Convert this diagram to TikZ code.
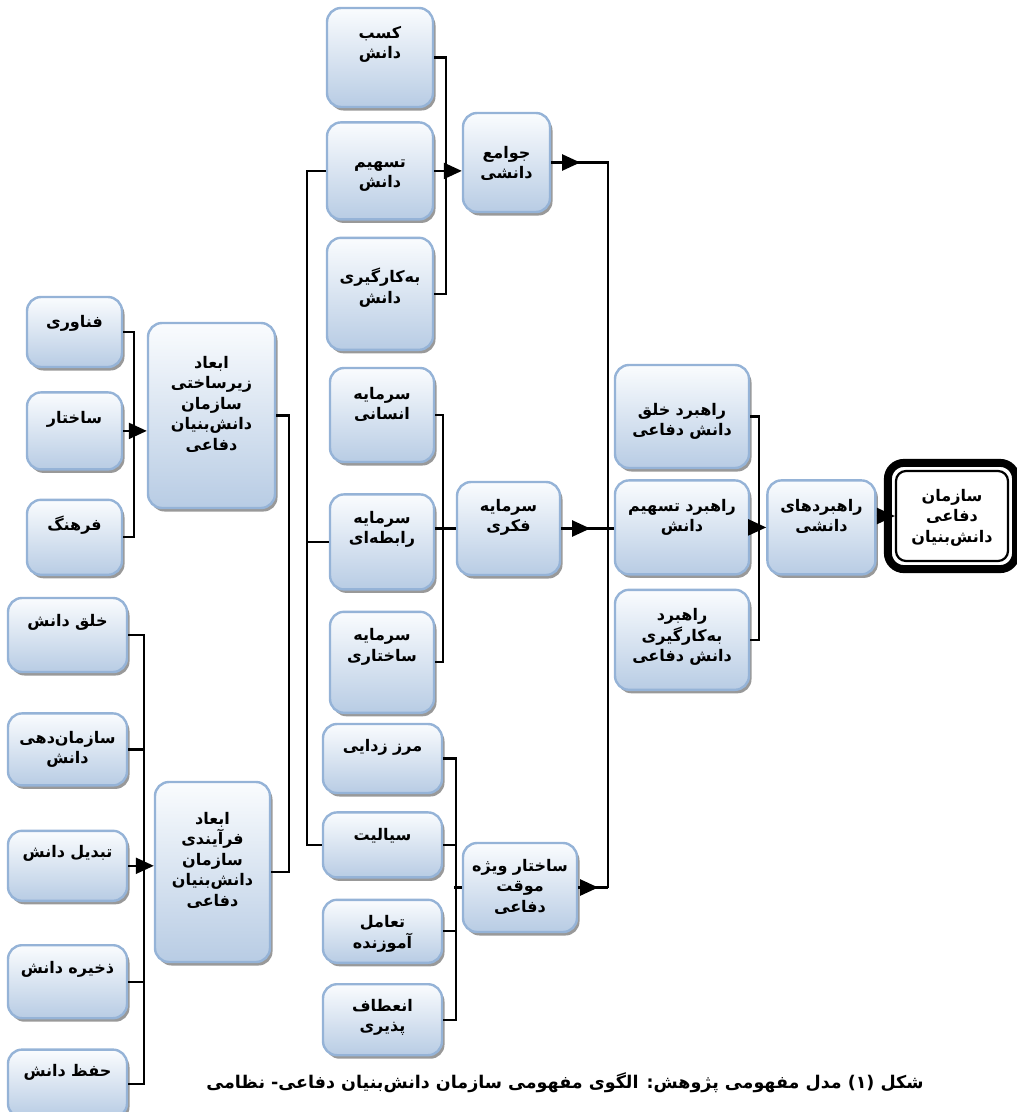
\documentclass[tikz,border=0pt]{standalone}
\usepackage{fontspec}
\newfontfamily\arabicfont[Script=Arabic]{DejaVu Sans}
\TeXXeTstate=1
\usetikzlibrary{arrows.meta,positioning,shadows,decorations.markings}
\definecolor{boxline}{RGB}{149,179,215}
\definecolor{boxtop}{RGB}{250,252,254}
\definecolor{boxbottom}{RGB}{184,204,228}
\newcommand{\fa}[1]{\beginR #1\endR}
\tikzset{
    %Define standard arrow tip
    >={Triangle[length=18pt,width=16pt]},
    %Define style for boxes
    box/.style={
           rectangle,
           rounded corners=14pt,
           draw=boxline, line width=2.4pt,
           top color=boxtop, bottom color=boxbottom,
           general shadow={fill=black!40, shadow xshift=2.5pt, shadow yshift=-3.5pt},
           inner sep=0pt,
           align=center,
           font=\arabicfont\bfseries\fontsize{16}{20.5}\selectfont},
    % width, top to first baseline, rest of height
    boxdim/.style n args={3}{
           text width=#1pt,
           text height=#2pt,
           text depth=#3pt},
    final/.style={
           rectangle,
           rounded corners=10pt,
           draw=black, line width=2.2pt,
           fill=white,
           inner sep=0pt,
           align=center,
           font=\arabicfont\bfseries\fontsize{16}{20.5}\selectfont},
    % Define arrow style
    link/.style={
           draw=black,
           line width=2.2pt},
    imply/.style={
           link,
           ->},
    midarrow/.style={
           link,
           postaction={decorate},
           decoration={markings, mark=at position #1 with {\arrow{>}}}}
}
\begin{document}
\begin{tikzpicture}[x=1pt, y=-1pt]
 \useasboundingbox (0,0) rectangle (1017,1112);
 %nodes
    \node[box, boxdim={95}{30}{40}] (fanavari) at (74.5,332) {\fa{فناوری}};
    \node[box, boxdim={95}{31}{46}, below=23pt of fanavari] (sakhtar) {\fa{ساختار}};
    \node[box, boxdim={95}{31}{44}, below=28pt of sakhtar] (farhang) {\fa{فرهنگ}};

    \node[box, boxdim={119}{28}{46}] (khalq) at (67.5,635) {\fa{خلق دانش}};
    \node[box, boxdim={119}{30}{42}, below=39pt of khalq] (sazmandehi) {\fa{سازمان‌دهی}\\\fa{دانش}};
    \node[box, boxdim={119}{27}{43}, below=43pt of sazmandehi] (tabdil) {\fa{تبدیل دانش}};
    \node[box, boxdim={119}{28}{45}, below=42pt of tabdil] (zakhire) {\fa{ذخیره دانش}};
    \node[box, boxdim={119}{27}{41}, below=29pt of zakhire] (hefz) {\fa{حفظ دانش}};

    \node[box, boxdim={127}{45}{140}] (abaadzir) at (211.5,415.5) {\fa{ابعاد}\\\fa{زیرساختی}\\\fa{سازمان}\\\fa{دانش‌بنیان}\\\fa{دفاعی}};
    \node[box, boxdim={115}{42}{138}] (abaadfar) at (212.5,872) {\fa{ابعاد}\\\fa{فرآیندی}\\\fa{سازمان}\\\fa{دانش‌بنیان}\\\fa{دفاعی}};

    \node[box, boxdim={106}{30}{69}] (kasb) at (380,57.5) {\fa{کسب}\\\fa{دانش}};
    \node[box, boxdim={106}{45}{52}, below=13pt of kasb] (tashim) {\fa{تسهیم}\\\fa{دانش}};
    \node[box, boxdim={106}{45}{67}, below=16pt of tashim] (bekar) {\fa{به‌کارگیری}\\\fa{دانش}};
    \node[box, boxdim={87}{45}{54}] (javame) at (506.5,162.5) {\fa{جوامع}\\\fa{دانشی}};

    \node[box, boxdim={104}{31}{63}] (ensani) at (382,415) {\fa{سرمایه}\\\fa{انسانی}};
    \node[box, boxdim={104}{29}{66}, below=30pt of ensani] (rabete) {\fa{سرمایه}\\\fa{رابطه‌ای}};
    \node[box, boxdim={104}{29}{72}, below=20pt of rabete] (sakhtari) {\fa{سرمایه}\\\fa{ساختاری}};
    \node[box, boxdim={103}{29}{64}] (fekri) at (508.5,528.5) {\fa{سرمایه}\\\fa{فکری}};

    \node[box, boxdim={119}{27}{42}] (marz) at (382.5,758.5) {\fa{مرز زدایی}};
    \node[box, boxdim={119}{28}{37}, below=17pt of marz] (sayaliat) {\fa{سیالیت}};
    \node[box, boxdim={119}{28}{35}, below=20pt of sayaliat] (taamol) {\fa{تعامل}\\\fa{آموزنده}};
    \node[box, boxdim={119}{27}{44}, below=19pt of taamol] (enetaf) {\fa{انعطاف}\\\fa{پذیری}};
    \node[box, boxdim={114}{28}{61}] (vizhe) at (520,887.5) {\fa{ساختار ویژه}\\\fa{موقت}\\\fa{دفاعی}};

    \node[box, boxdim={134}{50}{53}] (rkhalq) at (682,416.5) {\fa{راهبرد خلق}\\\fa{دانش دفاعی}};
    \node[box, boxdim={134}{31}{63}, below=10pt of rkhalq] (rtashim) {\fa{راهبرد تسهیم}\\\fa{دانش}};
    \node[box, boxdim={134}{31}{69}, below=13pt of rtashim] (rbekar) {\fa{راهبرد}\\\fa{به‌کارگیری}\\\fa{دانش دفاعی}};
    \node[box, boxdim={108}{31}{63}, right=16pt of rtashim] (rahbordha) {\fa{راهبردهای}\\\fa{دانشی}};

    \node[final, boxdim={112}{30}{60}] (final) at (952,516) {\fa{سازمان}\\\fa{دفاعی}\\\fa{دانش‌بنیان}};
    \draw[line width=8pt, rounded corners=16pt] ([shift={(-7,-7)}]final.north west) rectangle ([shift={(7,7)}]final.south east);

    \coordinate (collect) at (608,0);

    \node[font=\arabicfont\bfseries\fontsize{17.5}{22}\selectfont] (caption) at (565,1083) {\fa{شکل (۱) مدل مفهومی پژوهش: الگوی مفهومی سازمان دانش‌بنیان دفاعی- نظامی}};
 %edges
    \draw[link] (fanavari.east) -- ++(11,0) |- (farhang.east);
    \draw[imply] (sakhtar.east) -- (sakhtar.east -| abaadzir.west);

    \draw[link] (khalq.east) -- ++(16,0) |- (hefz.east);
    \draw[link] (sazmandehi.east) -- ++(16,0);
    \draw[link] (zakhire.east) -- ++(16,0);
    \draw[imply] (tabdil.east) -- (tabdil.east -| abaadfar.west);

    \draw[link] (abaadzir.east) -- ++(13,0) |- (abaadfar.east);
    \draw[link] (tashim.west) -- ++(-19,0) |- (sayaliat.west);
    \draw[link] (rabete.west) -- ++(-22,0);

    \draw[link] (kasb.east) -- ++(12,0) |- (bekar.east);
    \draw[imply] (tashim.east) -- (tashim.east -| javame.west);

    \draw[link] (ensani.east) -- ++(8,0) |- (sakhtari.east);
    \draw[link] (fekri.west -| rabete.east) -- (fekri.west);

    \draw[link] (marz.east) -- ++(13,0) |- (enetaf.east);
    \draw[link] (sayaliat.east) -- ++(13,0);
    \draw[link] (taamol.east) -- ++(13,0);
    \draw[link] (vizhe.west) -- ++(-8,0);

    \draw[midarrow=29pt] (javame.east) -- (javame.east -| collect) -- (vizhe.east -| collect);
    \draw[midarrow=29pt] (fekri.east) -- (fekri.east -| rtashim.west);
    \draw[midarrow=20pt] (vizhe.east) -- (vizhe.east -| collect);

    \draw[link] (rkhalq.east) -- ++(9,0) |- (rbekar.east);
    \draw[imply] (rahbordha.west -| rtashim.east) -- (rahbordha.west);
    \draw[imply] (final.west -| rahbordha.east) -- (final.west);
\end{tikzpicture}
\end{document}
